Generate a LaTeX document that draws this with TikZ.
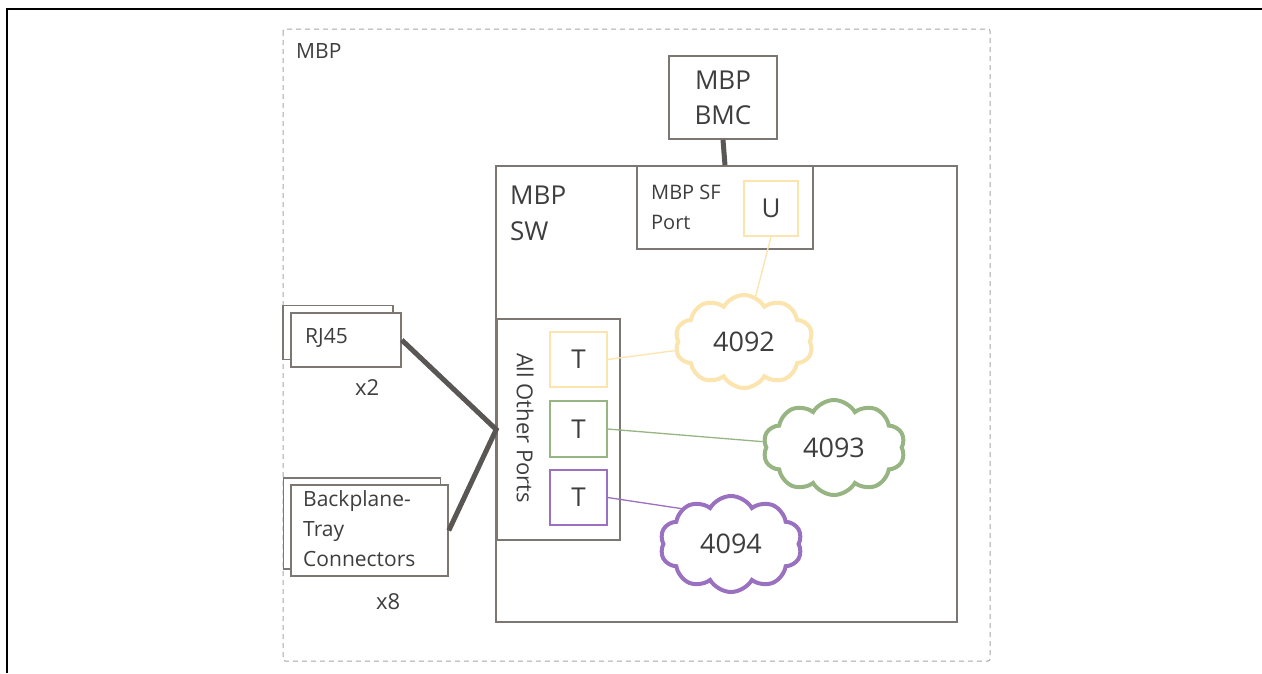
\documentclass[tikz,border=0pt]{standalone}
\usepackage{fontspec}
\setmainfont{Open Sans}
\usetikzlibrary{shapes.symbols}

\definecolor{txt}{HTML}{3E3E3E}
\definecolor{edge}{HTML}{7C7773}
\definecolor{wire}{HTML}{5A5654}
\definecolor{dashgray}{HTML}{A6A6A6}
\definecolor{yel}{HTML}{FBE4AE}
\definecolor{grn}{HTML}{97B583}
\definecolor{pur}{HTML}{9A70C0}

\tikzset{
  box/.style={draw=edge, line width=1.6pt, fill=white, rectangle, inner sep=0pt},
  portbox/.style={rectangle, inner sep=0pt, line width=1.3pt, fill=white,
    minimum width=57pt, minimum height=55pt, text=txt, font=\fontsize{26}{30}\selectfont},
  lbl/.style={inner sep=0pt, text=txt, align=left},
  vlan/.style={cloud, cloud puffs=10, cloud puff arc=120, aspect=1.5,
    cloud ignores aspect, line width=4pt, fill=white, inner sep=0pt,
    text=txt, font=\fontsize{27}{30}\selectfont},
  thick wire/.style={draw=wire, line width=5pt},
  thin wire/.style={line width=1.3pt}
}

\begin{document}
\begin{tikzpicture}[x=1pt, y=-1pt]
\useasboundingbox (0,0) rectangle (1262,673);

% page frame
\draw[line width=2.6pt] (7,673) -- (7,9) -- (1262,9);

% MBP enclosure
\draw[dashgray, line width=1pt, dash pattern=on 5pt off 4pt, rounded corners=2pt]
  (283,29) rectangle (990,661);
\node[lbl, anchor=north west, font=\fontsize{21}{26}\selectfont] (mbplabel) at (296,43) {MBP};

% switch and its ports
\node[box, minimum width=461pt, minimum height=456pt] (sw) at (726.5,394) {};
\node[lbl, anchor=north west, font=\fontsize{26}{36}\selectfont] (swlabel) at (510,186) {MBP\\SW};

\node[box, minimum width=108pt, minimum height=83pt, text=txt, align=center,
  font=\fontsize{26}{35}\selectfont] (bmc) at (723,97.5) {MBP\\BMC};

\node[box, minimum width=176pt, minimum height=83pt] (sf) at (725,207.5) {};
\node[lbl, anchor=north west, font=\fontsize{20}{30}\selectfont] (sflabel) at (651,185) {MBP SF\\Port};
\node[portbox, draw=yel, minimum width=54pt] (u) at (771,208.5) {U};

\node[box, minimum width=123pt, minimum height=221pt] (aop) at (558.5,429.5) {};
\node[lbl, rotate=-90, font=\fontsize{22}{26}\selectfont] (aoplabel) at (525,428) {All Other Ports};
\node[portbox, draw=yel] (ty) at (578.5,359.5) {T};
\node[portbox, draw=grn, minimum height=56pt] (tg) at (578.5,429) {T};
\node[portbox, draw=pur] (tp) at (578.5,497.5) {T};

% external connectors (stacked to show several)
\node[box, minimum width=110pt, minimum height=54pt] (rjback) at (338,332.5) {};
\node[box, minimum width=110pt, minimum height=54pt] (rj) at (346,340) {};
\node[lbl, anchor=north west, font=\fontsize{21}{26}\selectfont] (rjlabel) at (305,328) {RJ45};
\node[lbl, anchor=base west, font=\fontsize{22}{26}\selectfont] (rjcount) at (355,395) {x2};

\node[box, minimum width=157pt, minimum height=91pt] (bpback) at (362,523.5) {};
\node[box, minimum width=157pt, minimum height=91pt] (bp) at (369.5,530.5) {};
\node[lbl, anchor=north west, font=\fontsize{21}{30}\selectfont] (bplabel) at (303,490) {Backplane-\\Tray\\Connectors};
\node[lbl, anchor=base west, font=\fontsize{22}{26}\selectfont] (bpcount) at (376,609) {x8};

% VLAN clouds
\node[vlan, draw=yel, minimum width=138pt, minimum height=93pt] (c4092) at (744,341.5) {4092};
\node[vlan, draw=grn, minimum width=142pt, minimum height=95pt] (c4093) at (834,447.5) {4093};
\node[vlan, draw=pur, minimum width=142pt, minimum height=96pt] (c4094) at (731,544) {4094};
\coordinate (c4094in) at (684,509);

% links
\coordinate (hub) at (aop.west);
\draw[thick wire] (bmc.south) -- (sf.north);
\draw[thick wire] (rj.east) -- (hub) -- (bp.east);
\draw[thin wire, yel] (u.south) -- (c4092);
\draw[thin wire, yel] (ty.east) -- (c4092);
\draw[thin wire, grn] (tg.east) -- (c4093);
\draw[thin wire, pur] (tp.east) -- (c4094in);
\end{tikzpicture}
\end{document}
